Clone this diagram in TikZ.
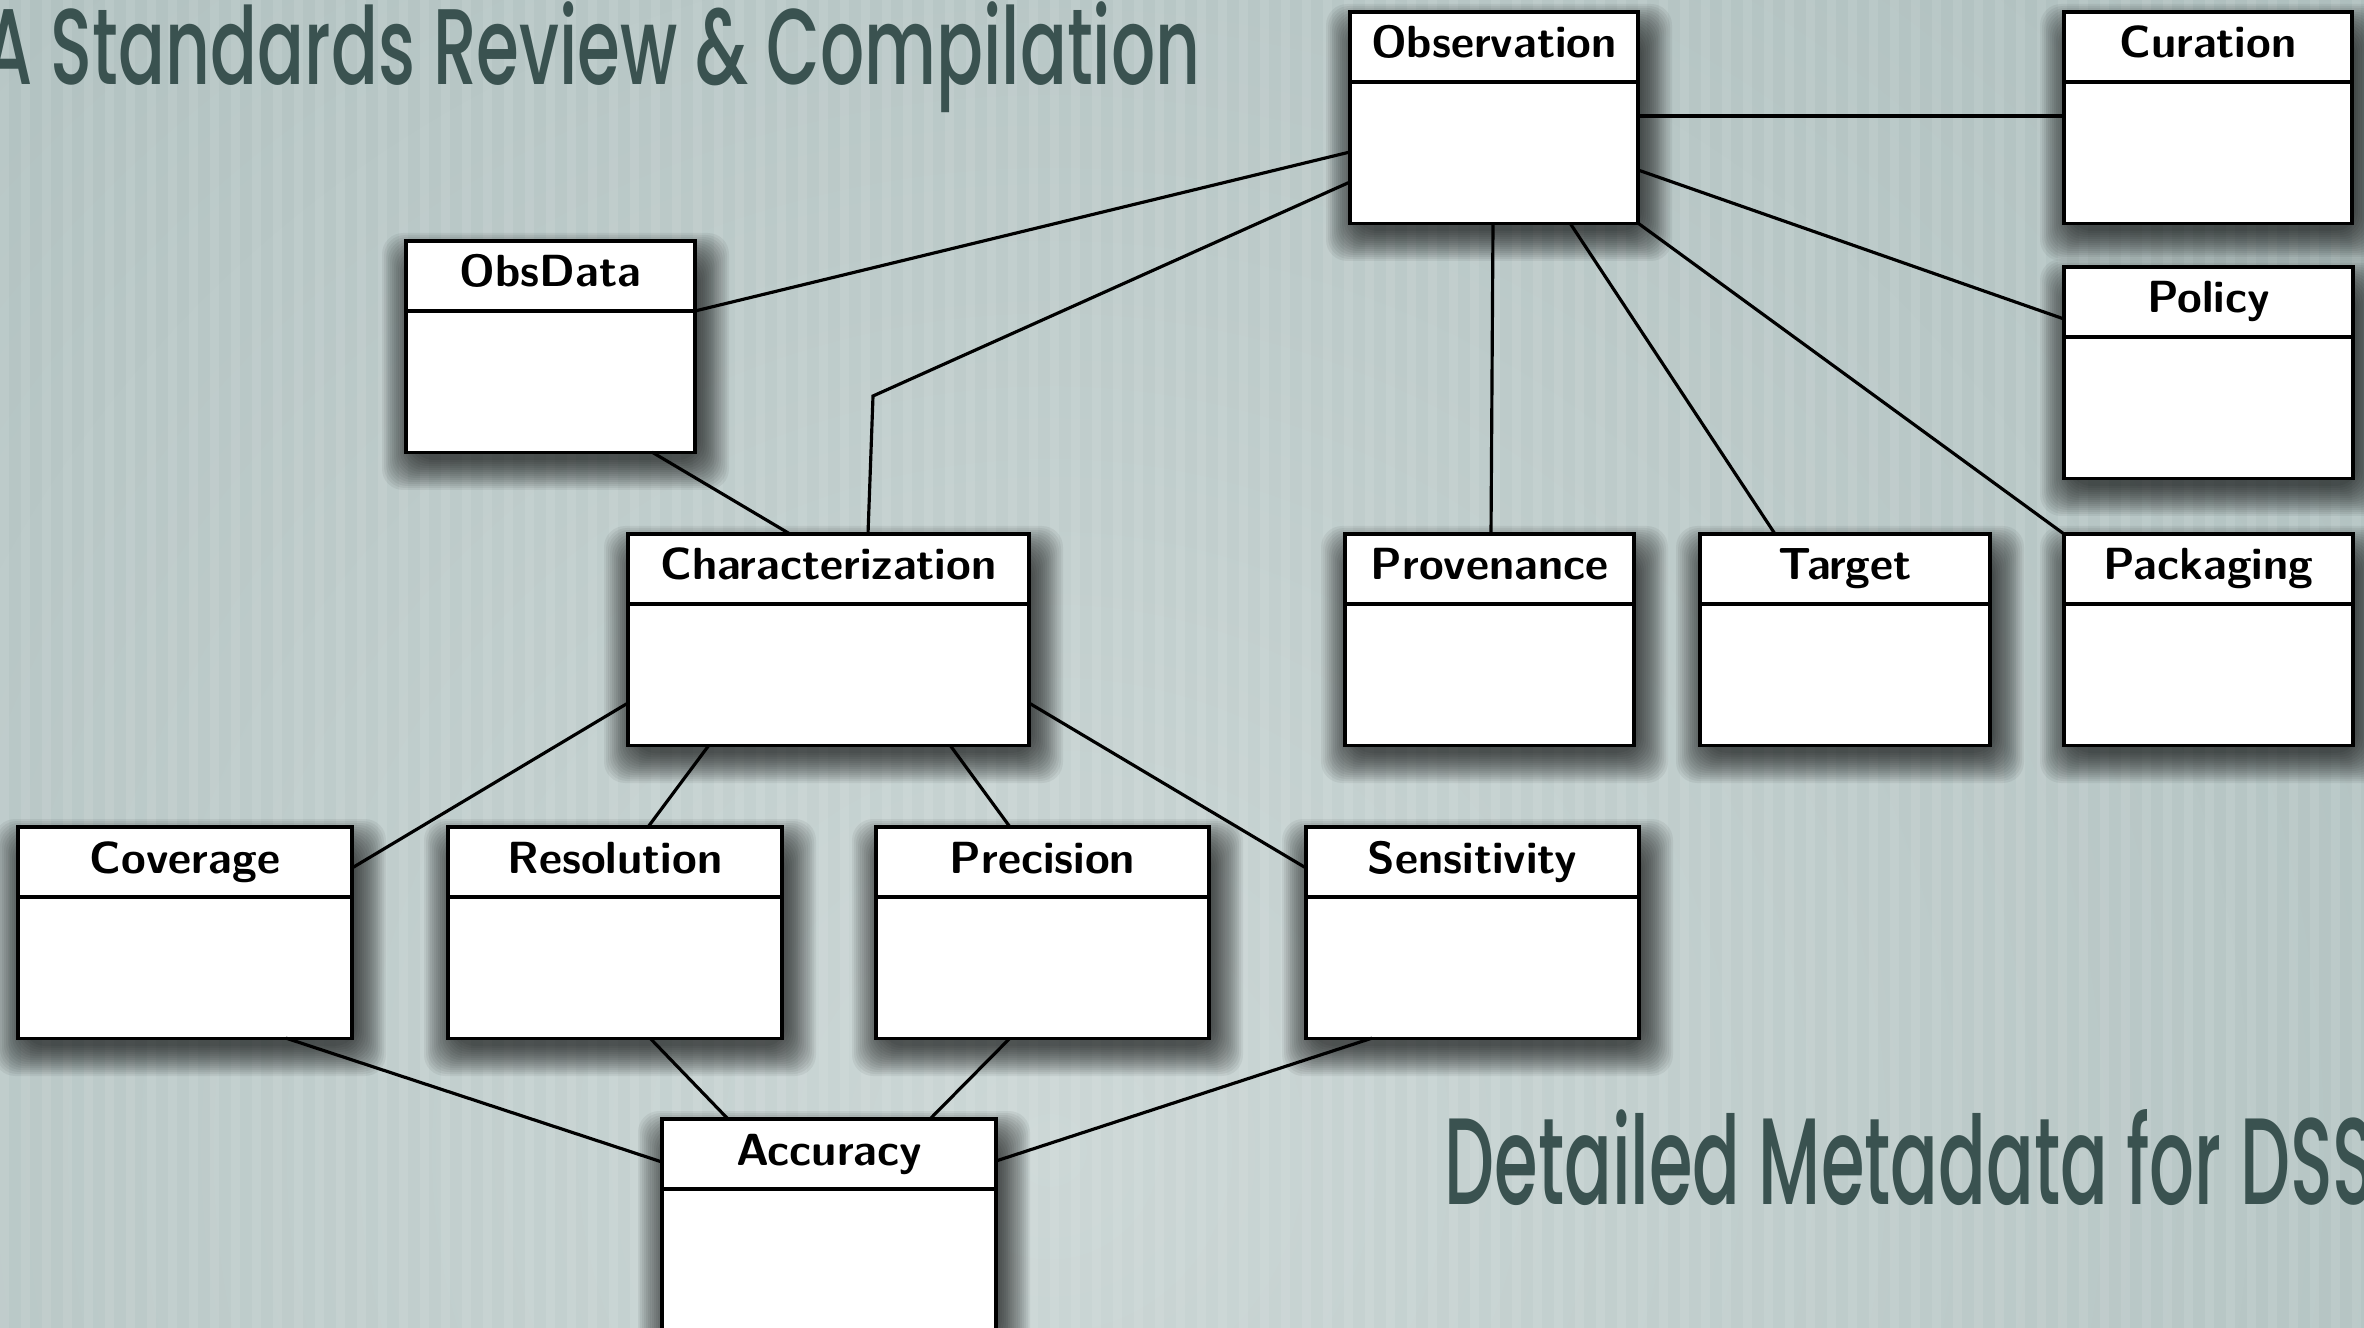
\documentclass[tikz,border=0pt]{standalone}
\usepackage{fontspec}
\newfontfamily\titlefont{Poppins Medium}
\usetikzlibrary{calc}
\definecolor{bgbase}{HTML}{A3B6B5}
\definecolor{bglight}{HTML}{CCD7D6}
\definecolor{titlecol}{HTML}{3A5250}
\newcommand\umlbox[5]{%
  \foreach \k in {1,...,16}
    \fill[shadowlayer] (#2+8-2*\k, #3+24-2*\k) rectangle (#2+#4+2+2*\k, #3+217+2*\k);
  \node[cls, minimum width=#4*0.01cm] (#1) at (#2,#3) {};
  \draw[hdr] ($(#1.north west)+(0,70)$) -- ($(#1.north east)+(0,70)$);
  \node[lbl] (#1-t) at ($(#1.north)+(0,46)$) {#5};
}
\begin{document}
\begin{tikzpicture}[x=0.01cm,y=-0.01cm,
  cls/.style={draw=black, line width=0.9pt, fill=white, rectangle, inner sep=0pt, outer sep=0pt,
    minimum height=2.11cm, anchor=north west},
  shadowlayer/.style={black, opacity=0.055, rounded corners=6pt},
  lbl/.style={font=\fontsize{12.8}{15}\selectfont\sffamily\bfseries, anchor=base, inner sep=0pt},
  conn/.style={line width=0.9pt},
  hdr/.style={line width=0.9pt},
  bigtitle/.style={text=titlecol, inner sep=0pt}]
\useasboundingbox (0,0) rectangle (2364,1328);
\begin{scope}
\clip (0,0) rectangle (2364,1328);
\fill[bgbase] (0,0) rectangle (2364,1328);
\shade[inner color=bglight, outer color=bgbase] (1050,1150) circle (24cm);
\foreach \i in {0,...,113} \fill[white,opacity=0.09] (\i*21,0) rectangle (\i*21+9,1328);

\node[bigtitle, anchor=base east] (title) at (1201,85)
  {\resizebox{12.15cm}{\height}{\titlefont\fontsize{30.6}{36}\selectfont A Standards Review \& Compilation}};
\node[bigtitle, anchor=base west] (subtitle) at (1444,1204)
  {\resizebox{9.3cm}{\height}{\titlefont\fontsize{35}{42}\selectfont Detailed Metadata for DSS}};

\umlbox{obs}{1350}{12}{288}{Observation}
\umlbox{cur}{2064}{12}{288}{Curation}
\umlbox{pol}{2064}{267}{289}{Policy}
\umlbox{obsd}{406}{241}{289}{ObsData}
\umlbox{char}{628}{534}{401}{Characterization}
\umlbox{prov}{1345}{534}{289}{Provenance}
\umlbox{targ}{1700}{534}{290}{Target}
\umlbox{pack}{2064}{534}{289}{Packaging}
\umlbox{cov}{18}{827}{334}{Coverage}
\umlbox{res}{448}{827}{334}{Resolution}
\umlbox{prec}{876}{827}{333}{Precision}
\umlbox{sens}{1306}{827}{333}{Sensitivity}
\umlbox{acc}{662}{1119}{334}{Accuracy}

\draw[conn] ($(obs.north west)+(0,140)$) -- ($(obsd.north east)+(0,70)$);
\draw[conn] ($(char.north west)+(240,0)$) -- ++(5,-138) -- ($(obs.north west)+(0,170)$);
\draw[conn] ($(obs.north east)+(0,104)$) -- ($(cur.north west)+(0,104)$);
\draw[conn] ($(obs.north east)+(0,158)$) -- ($(pol.north west)+(0,52)$);
\draw[conn] ($(obs.south west)+(143,0)$) -- ($(prov.north west)+(146,0)$);
\draw[conn] ($(obs.south west)+(220,0)$) -- ($(targ.north west)+(75,0)$);
\draw[conn] (obs.south east) -- (pack.north west);
\draw[conn] ($(obsd.south west)+(246,0)$) -- ($(char.north west)+(162,0)$);
\draw[conn] ($(char.north west)+(0,169)$) -- ($(cov.north east)+(0,41)$);
\draw[conn] ($(char.north east)+(0,169)$) -- ($(sens.north west)+(0,41)$);
\draw[conn] ($(char.south west)+(81,0)$) -- ($(res.north west)+(200,0)$);
\draw[conn] ($(char.south west)+(322,0)$) -- ($(prec.north west)+(134,0)$);
\draw[conn] ($(cov.south west)+(268,0)$) -- ($(acc.north west)+(0,43)$);
\draw[conn] ($(res.south west)+(202,0)$) -- ($(acc.north west)+(66,0)$);
\draw[conn] ($(prec.south west)+(134,0)$) -- ($(acc.north west)+(268,0)$);
\draw[conn] ($(sens.south west)+(66,0)$) -- ($(acc.north east)+(0,42)$);
\end{scope}
\end{tikzpicture}
\end{document}
